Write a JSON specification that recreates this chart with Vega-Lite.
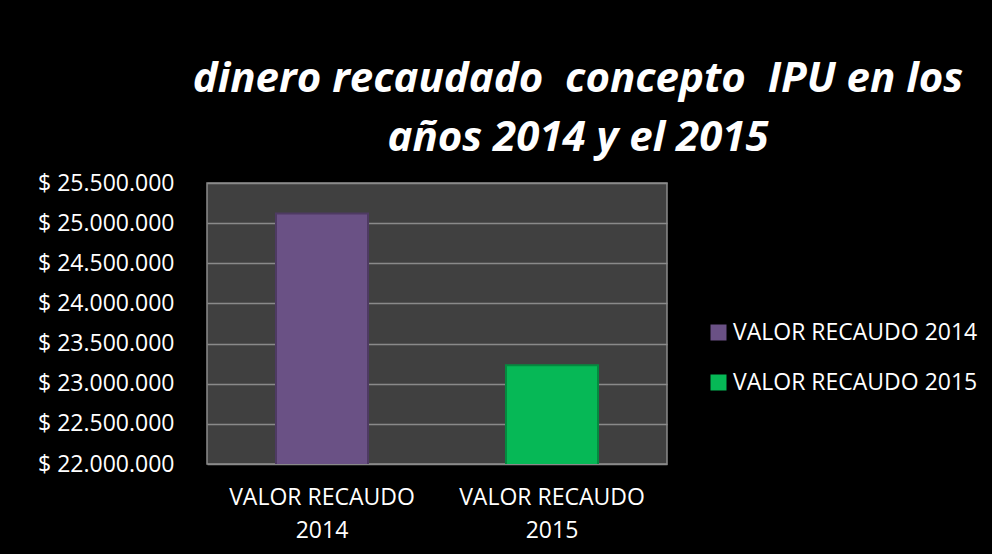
{
  "$schema": "https://vega.github.io/schema/vega-lite/v6.json",
  "autosize": {"type": "none"},
  "width": 460,
  "height": 281,
  "padding": {"left": 207, "top": 183, "right": 325, "bottom": 90},
  "background": "#000000",
  "title": {
    "text": ["dinero recaudado\u00a0 concepto\u00a0 IPU en los", "años 2014 y el 2015"],
    "font": "Open Sans",
    "fontSize": 42,
    "fontStyle": "italic",
    "fontWeight": "bold",
    "color": "#ffffff",
    "lineHeight": 59,
    "anchor": "middle",
    "dx": 141,
    "offset": 12
  },
  "data": {
    "values": [
      {"cat": "VALOR RECAUDO 2014", "value": 25120000},
      {"cat": "VALOR RECAUDO 2015", "value": 23230000}
    ]
  },
  "mark": {"type": "bar", "strokeWidth": 2, "clip": true},
  "encoding": {
    "x": {
      "field": "cat",
      "type": "nominal",
      "sort": null,
      "scale": {"paddingInner": 0.6, "paddingOuter": 0.3},
      "axis": {
        "title": null,
        "labelAngle": 0,
        "domain": false,
        "ticks": false,
        "labelFont": "Open Sans",
        "labelFontSize": 23,
        "labelColor": "#ffffff",
        "labelPadding": 22,
        "labelLineHeight": 33,
        "labelLimit": 400,
        "labelExpr": "[substring(datum.label, 0, 13), substring(datum.label, 14)]"
      }
    },
    "y": {
      "field": "value",
      "type": "quantitative",
      "scale": {"domain": [22000000, 25500000], "zero": false, "nice": false},
      "axis": {
        "title": null,
        "values": [22000000, 22500000, 23000000, 23500000, 24000000, 24500000, 25000000, 25500000],
        "domain": false,
        "ticks": false,
        "grid": true,
        "gridColor": "#8a8a8a",
        "gridWidth": 1.5,
        "labelFont": "Open Sans",
        "labelFontSize": 23,
        "labelColor": "#ffffff",
        "labelPadding": 33,
        "labelExpr": "'$ ' + replace(format(datum.value, ',.0f'), /,/g, '.')"
      }
    },
    "color": {
      "field": "cat",
      "type": "nominal",
      "scale": {"domain": ["VALOR RECAUDO 2014", "VALOR RECAUDO 2015"], "range": ["#6a5185", "#06b856"]},
      "legend": {
        "title": null,
        "orient": "none",
        "legendX": 500,
        "legendY": 138,
        "padding": 0,
        "symbolType": "square",
        "symbolSize": 256,
        "symbolStrokeWidth": 0,
        "labelFont": "Open Sans",
        "labelFontSize": 23,
        "labelColor": "#ffffff",
        "labelOffset": 3,
        "labelLimit": 400,
        "rowPadding": 26
      }
    },
    "stroke": {
      "field": "cat",
      "type": "nominal",
      "scale": {"domain": ["VALOR RECAUDO 2014", "VALOR RECAUDO 2015"], "range": ["#4e3a63", "#048a3f"]},
      "legend": null
    }
  },
  "config": {
    "view": {"fill": "#404040", "stroke": "#8a8a8a", "strokeWidth": 1.5}
  }
}
